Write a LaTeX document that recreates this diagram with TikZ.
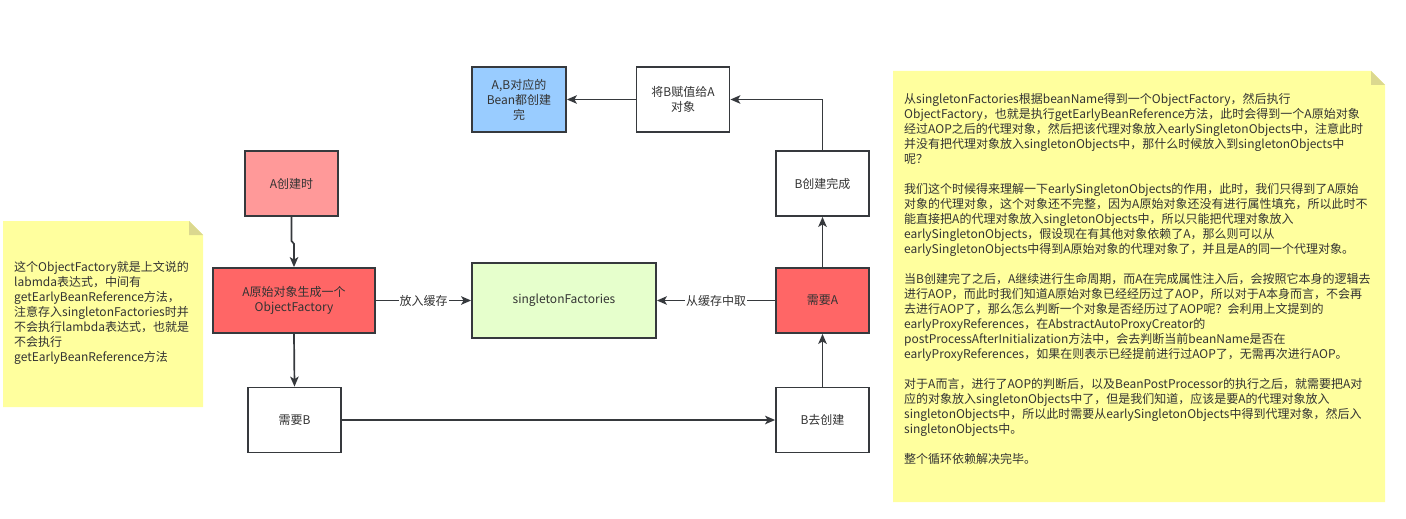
\documentclass[tikz,border=0pt]{standalone}
\usepackage{fontspec}
\setmainfont{Noto Sans CJK SC}
\usetikzlibrary{arrows.meta,calc}
\definecolor{strokec}{HTML}{36393D}
\definecolor{textc}{HTML}{333333}
\definecolor{redlight}{HTML}{FF9999}
\definecolor{redmid}{HTML}{FF6666}
\definecolor{greenl}{HTML}{E6FFCC}
\definecolor{bluel}{HTML}{99CCFF}
\definecolor{notefill}{HTML}{FFFF9E}
\definecolor{foldfill}{HTML}{DBD88F}
\tikzset{
  box/.style={draw=strokec, line width=1.8pt, text=textc, align=center,
    minimum width=93pt, minimum height=65pt, inner sep=2pt, font=\fontsize{12}{15}\selectfont},
  arr/.style={draw=strokec, line width=1.7pt, -{Stealth[length=10pt,width=8.5pt,inset=2.5pt]}},
  lbl/.style={fill=white, text=textc, inner sep=1pt, font=\fontsize{12}{15}\selectfont},
  notetext/.style={text=textc, align=left, anchor=north west, inner sep=0pt, font=\fontsize{12}{15}\selectfont},
}
\begin{document}
\begin{tikzpicture}[x=1pt,y=-1pt]
\useasboundingbox (0,0) rectangle (1406,519);
% notes
\fill[notefill] (3,221) -- (189,221) -- (203,235) -- (203,407) -- (3,407) -- cycle;
\fill[foldfill] (189,221) -- (189,235) -- (203,235) -- cycle;
\fill[notefill] (893,71) -- (1371,71) -- (1385,85) -- (1385,502) -- (893,502) -- cycle;
\fill[foldfill] (1371,71) -- (1371,85) -- (1385,85) -- cycle;
\node[notetext] (leftnote) at (14,261) {这个ObjectFactory就是上文说的\\labmda表达式，中间有\\getEarlyBeanReference方法，\\注意存入singletonFactories时并\\不会执行lambda表达式，也就是\\不会执行\\getEarlyBeanReference方法};
\node[notetext] (rightnote) at (904,93) {从singletonFactories根据beanName得到一个ObjectFactory，然后执行\\ObjectFactory，也就是执行getEarlyBeanReference方法，此时会得到一个A原始对象\\经过AOP之后的代理对象，然后把该代理对象放入earlySingletonObjects中，注意此时\\并没有把代理对象放入singletonObjects中，那什么时候放入到singletonObjects中\\呢？\\[15pt]我们这个时候得来理解一下earlySingletonObjects的作用，此时，我们只得到了A原始\\对象的代理对象，这个对象还不完整，因为A原始对象还没有进行属性填充，所以此时不\\能直接把A的代理对象放入singletonObjects中，所以只能把代理对象放入\\earlySingletonObjects，假设现在有其他对象依赖了A，那么则可以从\\earlySingletonObjects中得到A原始对象的代理对象了，并且是A的同一个代理对象。\\[15pt]当B创建完了之后，A继续进行生命周期，而A在完成属性注入后，会按照它本身的逻辑去\\进行AOP，而此时我们知道A原始对象已经经历过了AOP，所以对于A本身而言，不会再\\去进行AOP了，那么怎么判断一个对象是否经历过了AOP呢？会利用上文提到的\\earlyProxyReferences，在AbstractAutoProxyCreator的\\postProcessAfterInitialization方法中，会去判断当前beanName是否在\\earlyProxyReferences，如果在则表示已经提前进行过AOP了，无需再次进行AOP。\\[15pt]对于A而言，进行了AOP的判断后，以及BeanPostProcessor的执行之后，就需要把A对\\应的对象放入singletonObjects中了，但是我们知道，应该是要A的代理对象放入\\singletonObjects中，所以此时需要从earlySingletonObjects中得到代理对象，然后入\\singletonObjects中。\\[15pt]整个循环依赖解决完毕。};
% boxes
\node[box, fill=bluel, minimum width=94pt] (done) at (519,99.5) {A,B对应的\\Bean都创建\\完};
\node[box, fill=white] (assign) at (683,99.5) {将B赋值给A\\对象};
\node[box, fill=redlight] (acreate) at (291.5,183.5) {A创建时};
\node[box, fill=redmid, minimum width=162pt] (araw) at (294,300.5) {A原始对象生成一个\\ObjectFactory};
\node[box, fill=greenl, minimum width=184pt, minimum height=75pt] (sf) at (564,300.5) {singletonFactories};
\node[box, fill=redmid] (needa) at (822.5,300.5) {需要A};
\node[box, fill=white] (bdone) at (822.5,183.5) {B创建完成};
\node[box, fill=white] (needb) at (294.5,420) {需要B};
\node[box, fill=white] (bgo) at (822.5,420) {B去创建};
% connectors
\draw[arr] (acreate.south) -- ++(0,24) -- ++(2.5,3) -- (araw.north);
\draw[arr] (araw.east) -- node[lbl] {放入缓存} (sf.west);
\draw[arr] (needa.west) -- node[lbl] {从缓存中取} (sf.east);
\draw[arr] (araw.south) -- (needb.north);
\draw[arr] (needb.east) -- (bgo.west);
\draw[arr] (bgo.north) -- (needa.south);
\draw[arr] (needa.north) -- (bdone.south);
\draw[arr] (bdone.north) |- (assign.east);
\draw[arr] (assign.west) -- (done.east);
\end{tikzpicture}
\end{document}
